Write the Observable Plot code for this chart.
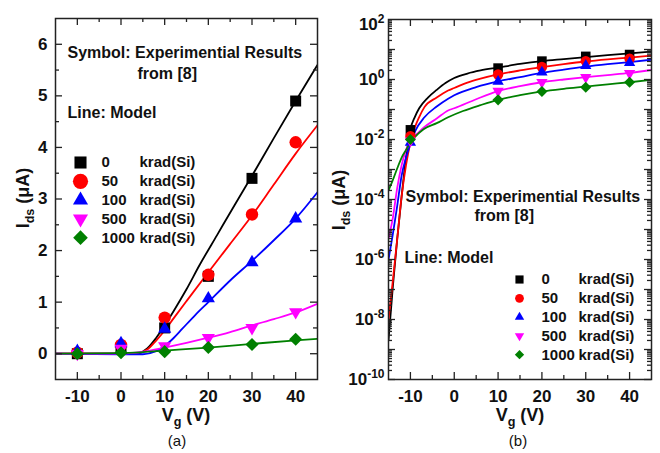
<!DOCTYPE html>
<html><head><meta charset="utf-8">
<script src="https://cdn.jsdelivr.net/npm/d3@7"></script>
<script src="https://cdn.jsdelivr.net/npm/@observablehq/plot@0.6"></script>
<style>
html,body{margin:0;padding:0;background:#fff;}
#wrap{display:flex;flex-direction:row;width:660px;height:453px;overflow:hidden;}
#wrap svg{flex:none;}
</style></head><body><div id="wrap"></div>
<script>
// ---------------- data ----------------
const doses = ["0", "50", "100", "500", "1000"];
const unitLabel = "krad(Si)";
const colors = ["#000000", "#ff0000", "#0000ff", "#ff00ff", "#008000"];
const xTickLabels = [-10, 0, 10, 20, 30, 40];
const xMinorTicks = [-5, 5, 15, 25, 35];
const yTickLabelsA = [0, 1, 2, 3, 4, 5, 6];
const yMinorTicksA = [0.5, 1.5, 2.5, 3.5, 4.5, 5.5];
const yTickLabelsB = [1e-10, 1e-8, 1e-6, 1e-4, 1e-2, 1e0, 1e2];
const yDecadesB = [1e-10, 1e-9, 1e-8, 1e-7, 1e-6, 1e-5, 1e-4, 1e-3, 1e-2, 1e-1, 1e0, 1e1];
const minorMantissa = [2, 3, 4, 5, 6, 7, 8, 9];
const annot1 = "Symbol: Experimential Results";
const annot2 = "from [8]";
const annot3 = "Line: Model";

// (a) linear scale, experimental symbols
const vgExpA = [-10, 0, 10, 20, 30, 40];
const idsExpA0    = [0.00, 0.10, 0.50, 1.50, 3.40, 4.90];
const idsExpA50   = [0.02, 0.17, 0.70, 1.53, 2.70, 4.10];
const idsExpA100  = [0.05, 0.20, 0.48, 1.07, 1.77, 2.62];
const idsExpA500  = [0.00, 0.10, 0.15, 0.31, 0.50, 0.81];
const idsExpA1000 = [0.00, 0.02, 0.04, 0.12, 0.18, 0.28];

// (a) model lines [Vg, Ids]
const lineA0 = [[-15,0],[0,0],[4,0.01],[6,0.1],[8,0.3],[10,0.55],[12,0.82],[15,1.25],[18,1.72],[22,2.3],[26,2.88],[30,3.45],[35,4.18],[40,4.9],[45,5.6]];
const lineA50 = [[-15,0],[0,0],[4,0.01],[6,0.08],[8,0.25],[10,0.45],[12,0.68],[15,1.02],[20,1.58],[25,2.13],[30,2.68],[35,3.28],[40,3.88],[45,4.43]];
const lineA100 = [[-15,0],[0,-0.01],[5,-0.01],[8,0.05],[10,0.15],[12,0.3],[14,0.48],[17,0.75],[20,1.0],[25,1.42],[30,1.8],[35,2.2],[40,2.62],[45,3.13]];
const lineA500 = [[-15,0],[0,0],[5,0.04],[10,0.12],[15,0.21],[20,0.31],[25,0.42],[30,0.55],[35,0.67],[40,0.8],[45,0.97]];
const lineA1000 = [[-15,0],[0,0.01],[5,0.03],[10,0.06],[20,0.12],[30,0.19],[40,0.26],[45,0.29]];

// (b) log scale, experimental symbols
const vgExpB = [-10, 10, 20, 30, 40];
const idsExpB0    = [0.021, 2.4, 4.1, 5.9, 6.8];
const idsExpB50   = [0.013, 1.47, 2.6, 4.1, 4.9];
const idsExpB100  = [0.008, 0.86, 1.75, 2.9, 3.6];
const idsExpB500  = [0.009, 0.41, 0.81, 1.19, 1.6];
const idsExpB1000 = [0.010, 0.21, 0.40, 0.55, 0.81];

// (b) model lines [Vg, Ids]
const lineB0 = [[-15,2.0e-9],[-14,1.3e-7],[-13,5.0e-6],[-12,1.3e-4],[-11,2.5e-3],[-10,0.022],[-9,0.056],[-8,0.11],[-6,0.25],[-4,0.45],[-2,0.76],[0,1.12],[3,1.58],[6,2.0],[10,2.5],[15,3.3],[20,4.1],[25,4.8],[30,5.6],[35,6.5],[40,7.4],[45,8.5]];
const lineB50 = [[-15,1.0e-8],[-14,2.0e-7],[-13,5.0e-6],[-12,1.3e-4],[-11,1.4e-3],[-10,7.9e-3],[-9,0.025],[-8,0.056],[-6.8,0.12],[-4,0.25],[-1.4,0.43],[0,0.52],[3,0.79],[6,1.07],[10,1.48],[15,2.0],[20,2.57],[25,3.24],[30,3.98],[35,4.68],[40,5.37],[45,6.3]];
const lineB100 = [[-15,1.0e-6],[-14,7.1e-6],[-13,6.3e-5],[-12,6.3e-4],[-11,2.5e-3],[-10,7.1e-3],[-9,0.018],[-6.8,0.055],[-4,0.126],[-1.4,0.23],[0,0.30],[5,0.56],[10,0.87],[15,1.2],[20,1.66],[25,2.14],[30,2.69],[35,3.24],[40,3.8],[45,4.57]];
const lineB500 = [[-15,5.0e-6],[-14,2.5e-5],[-13,2.5e-4],[-12,1.4e-3],[-11,4.5e-3],[-10,8.9e-3],[-8,0.018],[-6.8,0.026],[-4,0.05],[-1.4,0.093],[0,0.11],[5,0.22],[10,0.41],[15,0.6],[20,0.81],[25,1.0],[30,1.2],[35,1.41],[40,1.66],[45,2.09]];
const lineB1000 = [[-15,2.0e-4],[-14,4.5e-4],[-13,1.1e-3],[-12,2.5e-3],[-11,4.5e-3],[-10,7.9e-3],[-9,0.012],[-7,0.022],[-4,0.035],[-1.4,0.055],[2,0.089],[6,0.14],[10,0.21],[15,0.30],[20,0.40],[25,0.49],[30,0.58],[35,0.69],[40,0.81],[45,0.98]];

// ---------------- helpers ----------------
const FONT = "'Liberation Sans', Arial, Helvetica, sans-serif";
const INK = "#111";
const triangleDown = {
  draw(context, size) {
    const y = -Math.sqrt(size / (Math.sqrt(3) * 3));
    context.moveTo(0, -2 * y);
    context.lineTo(-Math.sqrt(3) * y, y);
    context.lineTo(Math.sqrt(3) * y, y);
    context.closePath();
  }
};
const symbols = ["square", "circle", "triangle", triangleDown, "diamond2"];

function expRows(vgs, series) {
  const rows = [];
  series.forEach((vals, i) => vals.forEach((v, j) => rows.push({dose: doses[i], vg: vgs[j], ids: v})));
  return rows;
}
function lineRows(series) {
  const rows = [];
  series.forEach((pairs, i) => pairs.forEach(p => rows.push({dose: doses[i], vg: p[0], ids: p[1]})));
  return rows;
}

const expA = expRows(vgExpA, [idsExpA0, idsExpA50, idsExpA100, idsExpA500, idsExpA1000]);
const modA = lineRows([lineA0, lineA50, lineA100, lineA500, lineA1000]);
const expB = expRows(vgExpB, [idsExpB0, idsExpB50, idsExpB100, idsExpB500, idsExpB1000]);
const modB = lineRows([lineB0, lineB50, lineB100, lineB500, lineB1000]);
const minorB = yDecadesB.flatMap(d => minorMantissa.map(m => m * d));

function frameTicks(xMaj, xMin, yMaj, yMin, fw, fh) {
  const st = {stroke: "#222", strokeWidth: 1.3};
  const L = 7, S = 4;
  return [
    Plot.tickX(xMaj, {x: d => d, insetTop: fh - L, ...st}),
    Plot.tickX(xMaj, {x: d => d, insetBottom: fh - L, ...st}),
    Plot.tickX(xMin, {x: d => d, insetTop: fh - S, ...st}),
    Plot.tickX(xMin, {x: d => d, insetBottom: fh - S, ...st}),
    Plot.tickY(yMaj, {y: d => d, insetRight: fw - L, ...st}),
    Plot.tickY(yMaj, {y: d => d, insetLeft: fw - L, ...st}),
    Plot.tickY(yMin, {y: d => d, insetRight: fw - S, ...st}),
    Plot.tickY(yMin, {y: d => d, insetLeft: fw - S, ...st})
  ];
}

function seriesMarks(mod, exp, rs) {
  const marks = [];
  doses.forEach((d, i) => {
    marks.push(Plot.line(mod.filter(r => r.dose === d), {x: "vg", y: "ids", stroke: colors[i], strokeWidth: 1.8, curve: "monotone-x", clip: true}));
  });
  doses.forEach((d, i) => {
    marks.push(Plot.dot(exp.filter(r => r.dose === d), {x: "vg", y: "ids", fill: colors[i], stroke: "none", symbol: symbols[i], r: rs[i]}));
  });
  return marks;
}

function annotMarks(pos) {
  const t = {frameAnchor: "top-left", textAnchor: "start", lineAnchor: "middle", fontWeight: "bold", fill: INK};
  const marks = [
    Plot.text([annot1], {...t, text: d => d, dx: pos.a1[0], dy: pos.a1[1], fontSize: 16}),
    Plot.text([annot2], {...t, text: d => d, dx: pos.a2[0], dy: pos.a2[1], fontSize: 16}),
    Plot.text([annot3], {...t, text: d => d, dx: pos.a3[0], dy: pos.a3[1], fontSize: 16})
  ];
  doses.forEach((d, i) => {
    const dy = pos.leg[1] + i * 18.8;
    marks.push(Plot.dot([d], {frameAnchor: "top-left", dx: pos.leg[0], dy, symbol: symbols[i], fill: colors[i], stroke: "none", r: pos.legR[i]}));
    marks.push(Plot.text([d], {...t, text: v => v, dx: pos.num, dy, fontSize: 15}));
    marks.push(Plot.text([unitLabel], {...t, text: v => v, dx: pos.unit, dy, fontSize: 15}));
  });
  return marks;
}

function addTitle(svg, x, y, parts, opts = {}) {
  const size = opts.size || 18;
  const t = d3.select(svg).append("text")
    .attr("text-anchor", "middle")
    .attr("font-family", FONT)
    .attr("font-size", size)
    .attr("font-weight", opts.weight || "bold")
    .attr("fill", INK);
  if (opts.rotate) t.attr("transform", `translate(${x},${y}) rotate(-90)`);
  else t.attr("x", x).attr("y", y);
  let prevSub = false;
  parts.forEach(([s, sub]) => {
    const ts = t.append("tspan").attr("font-size", sub ? size * 0.7 : size).text(s);
    if (sub) ts.attr("dy", 5);
    else if (prevSub) ts.attr("dy", -5);
    prevSub = sub;
  });
}

const baseStyle = {fontFamily: FONT, fontSize: "17px", fontWeight: "bold", background: "#fff", color: INK};

// ---------------- panel (a) ----------------
const A = {w: 330, h: 453, ml: 55, mr: 13, mt: 18, mb: 74};
const fwA = A.w - A.ml - A.mr, fhA = A.h - A.mt - A.mb;
const plotA = Plot.plot({
  width: A.w, height: A.h,
  marginLeft: A.ml, marginRight: A.mr, marginTop: A.mt, marginBottom: A.mb,
  style: baseStyle,
  x: {domain: [-15, 45], axis: null},
  y: {domain: [-0.5, 6.5], axis: null},
  marks: [
    ...seriesMarks(modA, expA, [6.2, 6.2, 4.9, 4.9, 5.9]),
    ...frameTicks(xTickLabels, xMinorTicks, yTickLabelsA, yMinorTicksA, fwA, fhA),
    Plot.frame({stroke: "#222", strokeWidth: 1.5}),
    Plot.text(xTickLabels, {x: d => d, frameAnchor: "bottom", dy: 17, lineAnchor: "middle", text: d => String(d), fontSize: 17, fontWeight: "bold", fill: INK}),
    Plot.text(yTickLabelsA, {y: d => d, frameAnchor: "left", dx: -8, textAnchor: "end", lineAnchor: "middle", text: d => String(d), fontSize: 17, fontWeight: "bold", fill: INK}),
    ...annotMarks({a1: [12, 34], a2: [82, 55], a3: [12, 94], leg: [25, 144], legR: [6.8, 7.6, 5.6, 5.6, 6.6], num: 46, unit: 84})
  ]
});

// ---------------- panel (b) ----------------
const B = {w: 330, h: 453, ml: 58, mr: 9, mt: 19, mb: 74};
const fwB = B.w - B.ml - B.mr, fhB = B.h - B.mt - B.mb;
const plotB = Plot.plot({
  width: B.w, height: B.h,
  marginLeft: B.ml, marginRight: B.mr, marginTop: B.mt, marginBottom: B.mb,
  style: baseStyle,
  x: {domain: [-15, 45], axis: null},
  y: {type: "log", domain: [1e-10, 1e2], axis: null},
  marks: [
    ...seriesMarks(modB, expB, [5.4, 5.2, 4.2, 4.2, 5.0]),
    ...frameTicks(xTickLabels, xMinorTicks, yDecadesB, minorB, fwB, fhB),
    Plot.frame({stroke: "#222", strokeWidth: 1.5}),
    Plot.text(xTickLabels, {x: d => d, frameAnchor: "bottom", dy: 17, lineAnchor: "middle", text: d => String(d), fontSize: 17, fontWeight: "bold", fill: INK}),
    Plot.text(yTickLabelsB, {y: d => d, frameAnchor: "left", dx: -4, textAnchor: "end", lineAnchor: "middle", text: d => "10^" + Math.round(Math.log10(d)), fontSize: 17, fontWeight: "bold", fill: INK}),
    ...annotMarks({a1: [17, 177], a2: [86, 196], a3: [16, 238], leg: [131, 260], legR: [4.6, 4.4, 3.5, 3.5, 4.2], num: 153, unit: 190})
  ]
});

const wrap = document.getElementById("wrap");
wrap.appendChild(plotA);
wrap.appendChild(plotB);

// superscript exponents on log tick labels
plotB.querySelectorAll("text").forEach(t => {
  if (t.children.length || t.textContent.indexOf("^") < 0) return;
  const parts = t.textContent.split("^");
  t.textContent = parts[0];
  const ts = document.createElementNS("http://www.w3.org/2000/svg", "tspan");
  ts.setAttribute("dy", "-7");
  ts.setAttribute("font-size", "12");
  ts.textContent = parts[1];
  t.appendChild(ts);
  if (parts[1] === "2") t.setAttribute("transform", (t.getAttribute("transform") || "") + " translate(0,5)");
});

// axis titles and panel captions
addTitle(plotA, 186, 421, [["V", false], ["g", true], [" (V)", false]]);
addTitle(plotA, 29, 198, [["I", false], ["ds", true], [" (μA)", false]], {rotate: true});
addTitle(plotA, 177, 446, [["(a)", false]], {size: 15, weight: "normal"});
addTitle(plotB, 190, 421, [["V", false], ["g", true], [" (V)", false]]);
addTitle(plotB, 15, 200, [["I", false], ["ds", true], [" (μA)", false]], {rotate: true});
addTitle(plotB, 188, 446, [["(b)", false]], {size: 15, weight: "normal"});
</script>
</body></html>
